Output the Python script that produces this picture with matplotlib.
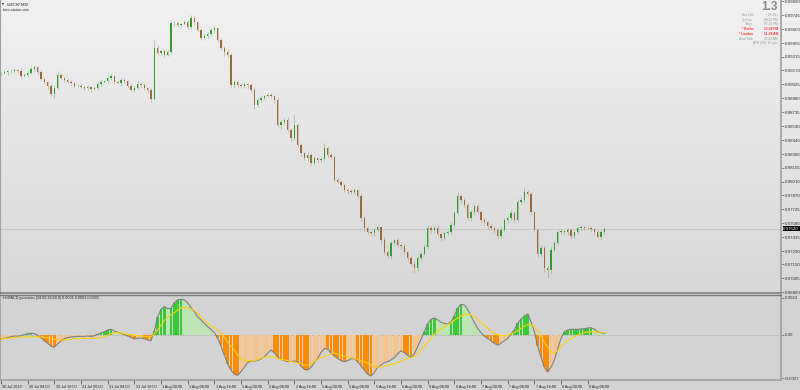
import numpy as np
import matplotlib
matplotlib.use("Agg")
import matplotlib.pyplot as plt
import matplotlib.transforms as mtransforms

# ---------------- data ----------------
POINT = 1e-5          # price values below are in points (1e-5)
MACD_UNIT = 1e-5      # MACD values below are in 1e-5 units

first_open_pts = 99140
close_pts = [
    # 30 Jul
    99144, 99150, 99160, 99165, 99175, 99165, 99112, 99122, 99144, 99185, 99206, 99154,
    99081, 99050, 99008, 98925, 98988, 99122, 99092, 99071, 99050, 99040, 99008, 99008,
    # 31 Jul
    98998, 98988, 98998, 98977, 98988, 99029, 99050, 99060, 99092, 99112, 99050, 99040,
    99071, 99060, 99008, 98967, 98988, 99029, 99019, 98988, 98967, 98873, 99404, 99352,
    # 1 Aug
    99373, 99331, 99362, 99664, 99664, 99643, 99654, 99675, 99623, 99716, 99675, 99591,
    99508, 99529, 99550, 99591, 99612, 99487, 99404, 99362, 99331, 99019, 99050, 99019,
    # 2 Aug
    99008, 99029, 99019, 98967, 98811, 98863, 98884, 98904, 98915, 98904, 98863, 98603,
    98634, 98655, 98550, 98467, 98603, 98394, 98311, 98259, 98290, 98207, 98259, 98238,
    # 5 Aug
    98248, 98363, 98290, 98269, 98030, 98009, 97978, 97926, 97915, 97905, 97926, 97863,
    97634, 97530, 97488, 97478, 97509, 97540, 97405, 97280, 97238, 97374, 97405, 97353,
    # 6 Aug
    97343, 97280, 97218, 97155, 97113, 97218, 97259, 97332, 97530, 97509, 97530, 97468,
    97426, 97478, 97488, 97561, 97686, 97863, 97822, 97770, 97634, 97697, 97759, 97697,
    # 7 Aug
    97613, 97592, 97551, 97530, 97509, 97447, 97509, 97613, 97634, 97686, 97613, 97801,
    97822, 97905, 97884, 97697, 97509, 97259, 97322, 97113, 97093, 97301, 97374, 97488,
    # 8 Aug
    97499, 97488, 97509, 97447, 97488, 97530, 97540, 97530, 97530, 97520, 97488, 97436,
    97488, 97520,
]
wick_up_pts = [
    15, 20, 15, 25, 20, 15, 30, 20, 25, 35, 20, 15, 20, 25, 15, 20, 30, 40, 20, 15, 25, 20, 15, 20,
    20, 15, 25, 15, 20, 25, 20, 15, 30, 25, 15, 20, 25, 20, 15, 25, 20, 45, 20, 25, 15, 20, 80, 30,
    25, 20, 30, 30, 20, 25, 15, 20, 25, 30, 20, 15, 25, 30, 20, 25, 20, 15, 25, 20, 30, 25, 20, 15,
    20, 25, 15, 20, 30, 25, 20, 15, 25, 20, 15, 30, 25, 20, 30, 20, 100, 20, 25, 15, 30, 20, 25, 15,
    20, 50, 25, 20, 15, 25, 20, 15, 20, 25, 20, 15, 30, 25, 20, 15, 25, 20, 15, 30, 25, 20, 15, 20,
    25, 20, 15, 20, 30, 25, 20, 35, 30, 25, 20, 30, 25, 20, 25, 30, 25, 40, 20, 25, 30, 25, 20, 25,
    20, 25, 15, 20, 25, 20, 30, 25, 20, 30, 25, 35, 30, 45, 25, 20, 15, 25, 30, 20, 25, 30, 20, 25,
    20, 15, 25, 20, 15, 20, 25, 15, 20, 25, 15, 20, 25, 20,
]
wick_dn_pts = [
    20, 15, 25, 20, 15, 20, 25, 15, 20, 15, 25, 20, 15, 25, 30, 20, 40, 15, 20, 25, 15, 20, 25, 15,
    15, 25, 20, 30, 15, 20, 25, 15, 20, 25, 20, 15, 30, 20, 25, 15, 20, 15, 25, 20, 30, 30, 15, 25,
    20, 25, 15, 20, 30, 25, 20, 15, 25, 20, 30, 25, 20, 15, 25, 20, 30, 25, 20, 40, 25, 20, 30, 25,
    20, 25, 30, 20, 40, 25, 20, 25, 15, 20, 30, 25, 40, 20, 25, 30, 25, 20, 30, 25, 30, 20, 25, 30,
    25, 20, 30, 25, 20, 15, 25, 20, 30, 25, 20, 25, 30, 35, 25, 20, 30, 25, 40, 20, 25, 30, 25, 20,
    30, 25, 30, 25, 50, 30, 25, 20, 25, 30, 25, 20, 30, 25, 20, 25, 20, 25, 30, 25, 20, 30, 25, 20,
    25, 20, 30, 25, 30, 35, 25, 20, 30, 25, 20, 25, 20, 25, 20, 30, 25, 30, 25, 40, 80, 30, 25, 20,
    25, 20, 30, 25, 20, 25, 20, 25, 20, 30, 35, 25, 20, 25,
]
macd_e5 = [
    -25, -21, -17, -11, -7, -7, -5, 2, 8, 10, 8, -3, -17, -36, -52, -69, -77, -56, -38, -23, -17, -13, -11, -9,
    -9, -9, -7, -9, -5, 4, 12, 20, 31, 35, 24, 16, 10, 2, -7, -15, -25, -21, -19, -23, -32, -36, 26, 113,
    159, 176, 163, 165, 200, 217, 221, 217, 200, 171, 144, 113, 93, 72, 51, 35, 14, -21, -69, -125, -181, -218, -243, -251,
    -228, -201, -172, -162, -162, -160, -149, -135, -114, -94, -110, -135, -152, -160, -166, -164, -162, -166, -193, -214, -218, -201, -172, -145,
    -110, -85, -89, -110, -131, -145, -160, -166, -160, -149, -147, -166, -193, -218, -243, -255, -234, -201, -187, -172, -166, -156, -141, -118,
    -98, -110, -127, -139, -118, -73, -27, 20, 68, 97, 105, 93, 78, 72, 68, 82, 118, 165, 190, 186, 159, 118, 76, 41,
    14, -7, -21, -36, -52, -63, -52, -36, -21, 6, 31, 72, 97, 118, 130, 82, 20, -69, -135, -201, -228, -201, -156, -89,
    -21, 20, 31, 35, 35, 35, 37, 39, 43, 45, 35, 20, 14, 10,
]
signal_e5 = [
    -25, -23, -21, -19, -17, -15, -13, -13, -11, -11, -11, -11, -13, -15, -19, -23, -27, -29, -32, -32, -29, -27, -25, -23,
    -21, -21, -21, -21, -19, -19, -17, -11, -3, 8, 14, 14, 12, 8, 4, 0, -3, -5, -7, -9, -11, -11, 6, 31,
    60, 89, 109, 126, 138, 155, 167, 171, 169, 163, 153, 134, 113, 89, 72, 57, 45, 31, 10, -15, -42, -69, -94, -125,
    -145, -156, -160, -162, -160, -154, -145, -139, -135, -135, -139, -145, -152, -156, -160, -166, -170, -176, -181, -187, -187, -181, -166, -152,
    -141, -135, -127, -118, -114, -118, -127, -133, -137, -141, -145, -152, -160, -168, -176, -187, -195, -199, -197, -193, -187, -185, -181, -172,
    -162, -154, -145, -141, -135, -118, -94, -69, -46, -21, 4, 24, 39, 51, 64, 76, 91, 105, 118, 126, 130, 126, 113, 97,
    78, 60, 41, 24, 10, 0, -5, -5, 0, 6, 14, 26, 41, 55, 64, 64, 51, 26, -7, -42, -77, -106, -114, -98,
    -73, -52, -36, -21, -11, 0, 8, 14, 18, 20, 20, 18, 16, 14,
]
price_ticks = [0.99890, 0.99745, 0.99600, 0.99455, 0.99315, 0.99170, 0.99025, 0.98880,
               0.98735, 0.98590, 0.98445, 0.98300, 0.98155, 0.98010, 0.97870, 0.97725,
               0.97580, 0.97435, 0.97290, 0.97150, 0.97005, 0.96860]
macd_ticks = [0.0023, 0.0, -0.0027]
macd_tick_labels = ["0.0023", "0.00", "-0.0027"]
time_labels = ["30 Jul 2019", "30 Jul 08:00", "30 Jul 16:00", "31 Jul 00:00", "31 Jul 08:00",
               "31 Jul 16:00", "1 Aug 00:00", "1 Aug 08:00", "1 Aug 16:00", "2 Aug 00:00",
               "2 Aug 08:00", "2 Aug 16:00", "5 Aug 00:00", "5 Aug 08:00", "5 Aug 16:00",
               "6 Aug 00:00", "6 Aug 08:00", "6 Aug 16:00", "7 Aug 00:00", "7 Aug 08:00",
               "7 Aug 16:00", "8 Aug 00:00", "8 Aug 08:00"]
bars_per_label = 8
info_rows = [("Bar Left", "( 05:20 )", False), ("Sydney", "08:24 PM", False),
             ("Tokyo", "07:24 PM", False), ("* Berlin", "12:24 PM", True),
             ("* London", "11:24 AM", True), ("New York", "06:24 AM", False)]
info_big = "1.3"
info_atr = "ATR (20): 16 pips"
symbol_title = "USDCHF,M30"
site_title = "forex-station.com"
ind_title = "Hi MACD gaussian (24.00,36.00,9) 0.0001 0.0001 0.0001"

# ---------------- derived arrays ----------------
close = np.array(close_pts) * POINT
opens = np.concatenate([[first_open_pts * POINT], close[:-1]])
body_top = np.maximum(opens, close)
body_bot = np.minimum(opens, close)
highs = body_top + np.array(wick_up_pts) * POINT
lows = body_bot - np.array(wick_dn_pts) * POINT
macd = np.array(macd_e5) * MACD_UNIT
signal = np.array(signal_e5) * MACD_UNIT
n = len(close)
x = np.arange(n)

plt.rcParams["font.family"] = ["Liberation Sans", "DejaVu Sans"]

W, H = 800, 390
fig = plt.figure(figsize=(W / 100, H / 100), dpi=100)

# background gradient
bg = fig.add_axes([0, 0, 1, 1])
bg.axis("off")
col = np.zeros((H, 1, 3))
for r in range(H):
    if r < 293:
        v = 0.945 - (0.945 - 0.845) * r / 293
    else:
        v = 0.83
    col[r, 0, :] = v
bg.imshow(col, aspect="auto", extent=[0, 1, 0, 1], interpolation="bilinear")
bg.set_xlim(0, 1)
bg.set_ylim(0, 1)

XL = (-0.3, 234.0)
RW = 781 / W

# ---------------- main price panel ----------------
ax = fig.add_axes([0, 1 - 293 / H, RW, 293 / H])
ax.patch.set_alpha(0)
ax.set_xlim(*XL)
ax.set_ylim(0.96853, 0.99904)

bull = close >= opens
body_col = np.where(bull, "#2f9a2f", "#9a6a3a")
ax.vlines(x, lows, highs, colors=body_col, linewidth=0.5, alpha=0.5, zorder=2)
heights = np.maximum(body_top - body_bot, 0.6 * POINT)
ax.bar(x, heights, bottom=body_bot, width=0.42, color=body_col, linewidth=0, zorder=3)

ax.axhline(close[-1], color="#c4c4c4", linewidth=0.6, zorder=1)

ax.set_xticks([])
ax.yaxis.tick_right()
ax.set_yticks(price_ticks)
ax.set_yticklabels([f"{v:.5f}" for v in price_ticks])
ax.tick_params(axis="y", labelsize=3.2, length=2, width=0.5, color="#606060",
               pad=1, labelcolor="#303030")
ax.spines["top"].set_visible(False)
ax.spines["left"].set_color("#a0a0a0")
ax.spines["left"].set_linewidth(1.5)
ax.spines["right"].set_color("#a0a0a0")
ax.spines["right"].set_linewidth(1.2)
ax.spines["bottom"].set_color("#7a7a7a")
ax.spines["bottom"].set_linewidth(1.1)

trans = mtransforms.blended_transform_factory(ax.transAxes, ax.transData)
ax.text(1.003, close[-1], f"{close[-1]:.5f}", transform=trans, ha="left", va="center",
        fontsize=3.2, color="white",
        bbox=dict(facecolor="black", edgecolor="none", pad=0.4), zorder=5, clip_on=False)

# titles
fig.text(2 / W, 1 - 4.5 / H, "\u25BC", fontsize=1.8, va="center", ha="left", color="#202020",
         family="DejaVu Sans")
fig.text(7 / W, 1 - 4.5 / H, symbol_title, fontsize=2.5, va="center", ha="left", color="#202020")
fig.text(2 / W, 1 - 9.8 / H, site_title, fontsize=2.5, va="center", ha="left", color="#202020")

# info box
fig.text(778 / W, 1 - 7.5 / H, info_big, fontsize=8.5, fontweight="bold", ha="right",
         va="center", color="#8a8a8a")
for k, (lab, val, red) in enumerate(info_rows):
    yy = 15 + 4.7 * k
    c = "#ff3333" if red else "#9a9a9a"
    fig.text(753 / W, 1 - yy / H, lab, fontsize=2.3, ha="right", va="center", color=c,
             fontweight="bold" if red else "normal")
    fig.text(778 / W, 1 - yy / H, val, fontsize=2.3, ha="right", va="center", color=c,
             fontweight="bold" if red else "normal")
fig.text(778 / W, 1 - 43.3 / H, info_atr, fontsize=2.3, ha="right", va="center", color="#9a9a9a")

# ---------------- MACD panel ----------------
ax2 = fig.add_axes([0, 10 / H, RW, 85 / H])
ax2.patch.set_alpha(0)
ax2.set_xlim(*XL)
ax2.set_ylim(-0.00280, 0.00248)

prev = np.concatenate([[macd[0]], macd[:-1]])
rising = macd >= prev
hist_col = np.where(macd >= 0,
                    np.where(rising, "#36cc36", "#b8e8ae"),
                    np.where(rising, "#f6c48f", "#ff8c00"))
ax2.bar(x, macd, width=0.8, color=hist_col, linewidth=0, zorder=2)
ax2.axhline(0, color="#a8a8a8", linewidth=0.7, linestyle=(0, (1, 1.5)), zorder=1)
ax2.plot(x, macd, color="#7f7f7f", linewidth=0.8, zorder=3)
ax2.plot(x, signal, color="#ffd000", linewidth=0.8, zorder=4)

ax2.yaxis.tick_right()
ax2.set_yticks(macd_ticks)
ax2.set_yticklabels(macd_tick_labels)
ax2.tick_params(axis="y", labelsize=3.2, length=2, width=0.5, color="#606060",
                pad=1, labelcolor="#303030")
tick_pos = np.arange(len(time_labels)) * bars_per_label
ax2.set_xticks(tick_pos)
ax2.set_xticklabels(time_labels)
ax2.tick_params(axis="x", labelsize=2.7, length=3, width=0.5, color="#404040",
                pad=0.3, labelcolor="#202020")
off = mtransforms.ScaledTranslation(1.5 / 100, 0, fig.dpi_scale_trans)
for lab in ax2.get_xticklabels():
    lab.set_horizontalalignment("left")
    lab.set_transform(lab.get_transform() + off)

ax2.spines["top"].set_color("#7a7a7a")
ax2.spines["top"].set_linewidth(1.0)
for s in ["left", "right", "bottom"]:
    ax2.spines[s].set_color("#a0a0a0")
    ax2.spines[s].set_linewidth(1.2)

fig.text(3 / W, 1 - 298.5 / H, ind_title, fontsize=2.7, ha="left", va="center", color="#202020")

fig.savefig("out.png", dpi=100)
